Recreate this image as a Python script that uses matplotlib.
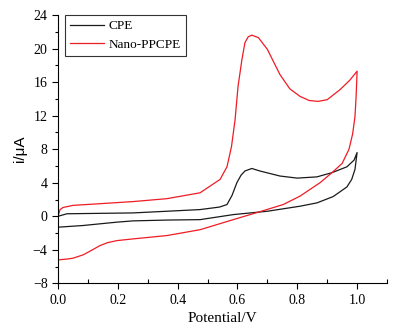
import matplotlib.pyplot as plt
from matplotlib.ticker import MultipleLocator

plt.rcParams['font.family'] = ['Liberation Serif', 'DejaVu Serif']

# CPE (black) - forward and reverse scan
cpe_v = [0.0, 0.03, 0.14, 0.25, 0.364, 0.475, 0.54, 0.565, 0.582, 0.598, 0.612, 0.625, 0.648, 0.675,
         0.742, 0.8, 0.866, 0.916, 0.966, 0.99, 1.0,
         0.993, 0.982, 0.966, 0.92, 0.866, 0.809, 0.7, 0.586, 0.475, 0.364, 0.25, 0.197, 0.14, 0.084, 0.0]
cpe_i = [0.0, 0.3, 0.35, 0.4, 0.6, 0.8, 1.1, 1.4, 2.5, 4.0, 4.9, 5.4, 5.7, 5.4,
         4.8, 4.55, 4.7, 5.2, 5.9, 6.7, 7.6,
         5.6, 4.4, 3.5, 2.35, 1.6, 1.2, 0.6, 0.2, -0.4, -0.45, -0.55, -0.7, -0.9, -1.1, -1.3]

# Nano-PPCPE (red)
ppc_v = [0.0, 0.007, 0.017, 0.05, 0.14, 0.25, 0.364, 0.475, 0.542, 0.565, 0.58, 0.592, 0.602,
         0.615, 0.625, 0.636, 0.648, 0.67, 0.7, 0.742, 0.775, 0.809, 0.84, 0.87,
         0.9, 0.943, 0.975, 1.0,
         0.997, 0.993, 0.985, 0.973, 0.95, 0.916, 0.876, 0.809, 0.753, 0.676, 0.586, 0.475, 0.364,
         0.25, 0.197, 0.165, 0.14, 0.11, 0.084, 0.05, 0.03, 0.0]
ppc_i = [0.0, 0.8, 1.05, 1.3, 1.5, 1.75, 2.1, 2.8, 4.4, 5.9, 8.3, 11.5, 15.5,
         18.7, 20.7, 21.4, 21.6, 21.3, 19.9, 16.9, 15.2, 14.3, 13.8, 13.7,
         13.9, 15.1, 16.2, 17.3,
         14.5, 11.9, 9.8, 8.0, 6.3, 5.2, 4.0, 2.4, 1.4, 0.56, -0.4, -1.6, -2.3,
         -2.7, -2.9, -3.15, -3.5, -4.1, -4.6, -5.0, -5.1, -5.2]

fig = plt.figure(figsize=(4, 3.33), dpi=100)
ax = fig.add_axes([0.145, 0.149, 0.8225, 0.806])

ax.plot(cpe_v, cpe_i, color='#1a1a1a', lw=0.9, label='CPE')
ax.plot(ppc_v, ppc_i, color='#ee1c25', lw=0.9, label='Nano-PPCPE')

ax.set_xlim(0, 1.1)
ax.set_ylim(-8, 24)
ax.set_xticks([0.0, 0.2, 0.4, 0.6, 0.8, 1.0])
ax.xaxis.set_minor_locator(MultipleLocator(0.1))
ax.set_yticks(range(-8, 25, 4))
ax.set_yticklabels(['\u22128', '\u22124', '0', '4', '8', '12', '16', '20', '24'])
ax.yaxis.set_minor_locator(MultipleLocator(2))
ax.spines['top'].set_visible(False)
ax.spines['right'].set_visible(False)
ax.tick_params(axis='both', which='major', direction='out', length=4, width=0.8, labelsize=10)
ax.tick_params(axis='x', which='minor', direction='in', length=3, width=0.8)
ax.tick_params(axis='y', which='minor', direction='out', length=2, width=0.8)

ax.set_xlabel('Potential/V', fontsize=11)
ax.set_ylabel('i/\u03bcA', fontsize=11, family=['Liberation Sans', 'DejaVu Sans'])

leg = ax.legend(loc='upper left', fontsize=9.5, frameon=True, fancybox=False,
                edgecolor='black', handlelength=2.6, borderpad=0.4,
                labelspacing=0.45, handletextpad=0.3, borderaxespad=0,
                bbox_to_anchor=(0.021, 1.0))
leg.get_frame().set_linewidth(0.8)

fig.savefig('out.png', dpi=100)
